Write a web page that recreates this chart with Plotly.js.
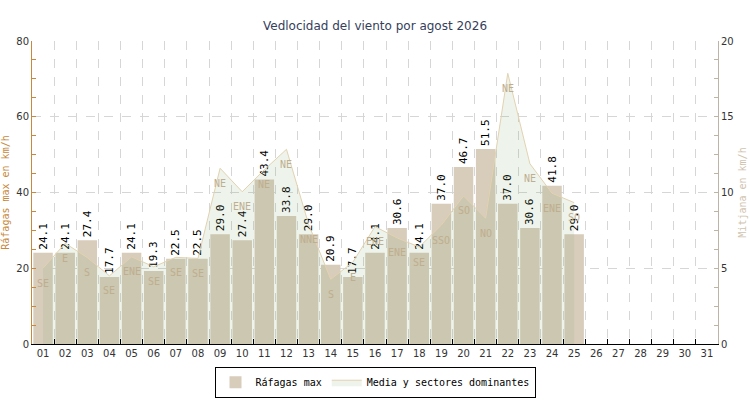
<!DOCTYPE html>
<html>
<head>
<meta charset="utf-8">
<script src="https://cdn.plot.ly/plotly-3.0.1.min.js"></script>
<style>
    html, body { margin: 0; padding: 0; background: #ffffff; }
    #chart { width: 750px; height: 400px; }
</style>
</head>
<body>
<div id="chart"></div>
<script>
// dias del mes (01..31), solo hay datos hasta el 25
const DAYS = Array.from({ length: 31 }, (_, i) => String(i + 1).padStart(2, "0"));
const DATA_DAYS = DAYS.slice(0, 25);

// rafagas maximas en km/h (eje izquierdo)
const GUST_MAX = [
    24.1, 24.1, 27.4, 17.7, 24.1, 19.3, 22.5, 22.5, 29.0, 27.4,
    43.4, 33.8, 29.0, 20.9, 17.7, 24.1, 30.6, 24.1, 37.0, 46.7,
    51.5, 37.0, 30.6, 41.8, 29.0,
];

// velocidad media en km/h (eje derecho)
const WIND_MEAN = [
    5.0, 6.65, 5.7, 4.5, 5.75, 5.1, 5.72, 5.65, 11.6, 10.05,
    11.5, 12.85, 7.9, 4.27, 5.4, 7.75, 7.0, 6.4, 7.85, 9.77,
    8.3, 17.87, 11.9, 9.95, 9.33,
];

// sector dominante de cada dia
const SECTORS = [
    "SE", "E", "S", "SE", "ENE", "SE", "SE", "SE", "NE", "ENE",
    "NE", "NE", "NNE", "S", "E", "ENE", "ENE", "SE", "SSO", "SO",
    "NO", "NE", "NE", "ENE", "SO",
];

const MONO = "\"DejaVu Sans Mono\", \"Liberation Mono\", monospace";
const SANS = "\"DejaVu Sans\", \"Noto Sans\", sans-serif";
const GRID = "#d6d6d6";

const traces = [
    {
        type: "bar",
        name: "Ráfagas max",
        x: DATA_DAYS,
        y: GUST_MAX,
        yaxis: "y",
        marker: { color: "#d8ccbb", line: { width: 0 } },
        text: GUST_MAX.map((v) => v.toFixed(1)),
        textposition: "outside",
        textangle: -90,
        constraintext: "none",
        cliponaxis: false,
        textfont: { family: MONO, size: 11, color: "#000000" },
        hoverinfo: "x+y",
    },
    {
        type: "scatter",
        mode: "lines",
        name: "Media y sectores dominantes",
        x: DATA_DAYS,
        y: WIND_MEAN,
        yaxis: "y2",
        fill: "tozeroy",
        fillcolor: "rgba(119, 167, 103, 0.125)",
        line: { color: "#e2d2b0", width: 1 },
        hoverinfo: "x+y",
    },
];

// annotations on a category axis: use the category index, "01" would be read as 1
const sectorLabels = DATA_DAYS.map((day, i) => ({
    x: DAYS.indexOf(day),
    y: WIND_MEAN[i],
    xref: "x",
    yref: "y2",
    text: SECTORS[i],
    showarrow: false,
    yshift: -15,
    font: { family: MONO, size: 10, color: "#bfae8f" },
}));

const layout = {
    width: 750,
    height: 400,
    margin: { l: 32, r: 32, t: 41, b: 56, autoexpand: false },
    paper_bgcolor: "#ffffff",
    plot_bgcolor: "#ffffff",
    font: { family: SANS, size: 10, color: "#333333" },
    title: {
        text: "Vedlocidad del viento por agost 2026",
        font: { family: SANS, size: 12, color: "#34405c" },
        x: 0.5,
        xanchor: "center",
        y: 0.936,
        yanchor: "middle",
    },
    showlegend: true,
    legend: {
        orientation: "h",
        x: 0.5,
        xanchor: "center",
        y: -0.075,
        yanchor: "top",
        bordercolor: "#000000",
        borderwidth: 1,
        bgcolor: "#ffffff",
        font: { family: MONO, size: 10, color: "#000000" },
        itemwidth: 30,
    },
    bargap: 0.12,
    xaxis: {
        type: "category",
        categoryorder: "array",
        categoryarray: DAYS,
        range: [-0.5, 30.5],
        tickson: "boundaries",
        ticks: "inside",
        ticklen: 5,
        tickcolor: "#000000",
        showline: true,
        linecolor: "#000000",
        linewidth: 1,
        showgrid: true,
        gridcolor: GRID,
        griddash: "dash",
        tickfont: { family: SANS, size: 10, color: "#333333" },
        fixedrange: true,
    },
    yaxis: {
        range: [0, 80],
        dtick: 20,
        ticks: "inside",
        ticklen: 4,
        tickcolor: "#c8893c",
        showline: true,
        linecolor: "#c8893c",
        linewidth: 1,
        showgrid: true,
        gridcolor: GRID,
        griddash: "dash",
        zeroline: false,
        minor: { dtick: 5, ticks: "inside", ticklen: 4, tickcolor: "#c8893c", showgrid: false },
        tickfont: { family: SANS, size: 10, color: "#333333" },
        title: {
            text: "Ráfagas max en km/h",
            font: { family: MONO, size: 10, color: "#c8893c" },
            standoff: 6,
        },
    },
    yaxis2: {
        overlaying: "y",
        side: "right",
        range: [0, 20],
        dtick: 5,
        ticks: "inside",
        ticklen: 4,
        tickcolor: "#bdb4a6",
        showline: true,
        linecolor: "#bdb4a6",
        linewidth: 1,
        showgrid: false,
        zeroline: false,
        minor: { dtick: 1.25, ticks: "inside", ticklen: 4, tickcolor: "#bdb4a6", showgrid: false },
        tickfont: { family: SANS, size: 10, color: "#333333" },
        title: {
            text: "Mitjana en km/h",
            font: { family: MONO, size: 10, color: "#cfc3ae" },
            standoff: 6,
        },
    },
    annotations: sectorLabels,
};

Plotly.newPlot("chart", traces, layout, { displayModeBar: false, staticPlot: true });
</script>
</body>
</html>
